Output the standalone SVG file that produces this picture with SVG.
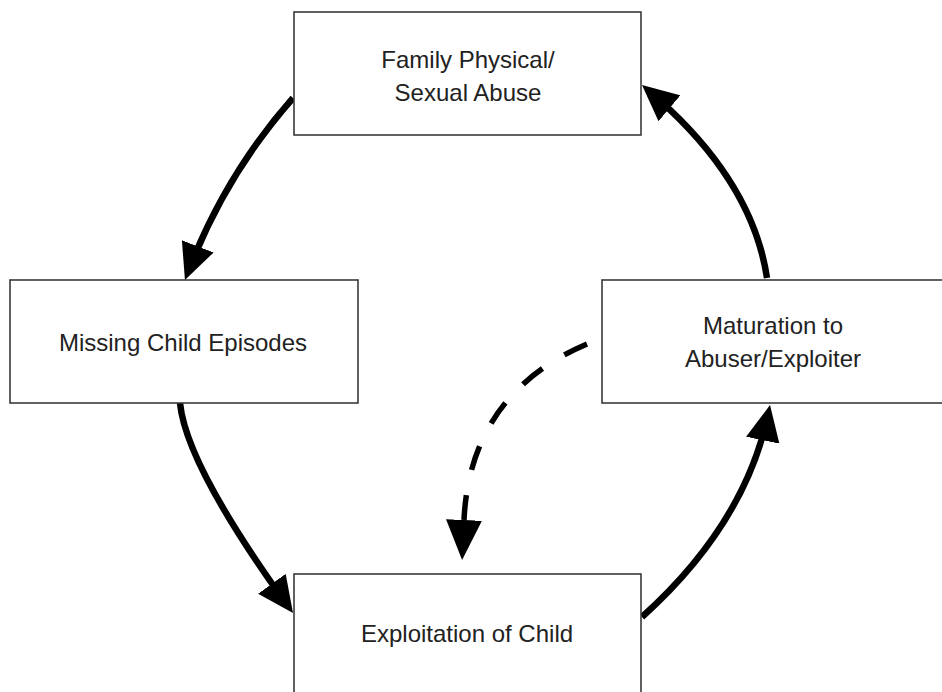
<svg xmlns="http://www.w3.org/2000/svg" width="942" height="692" viewBox="0 0 942 692">
<style>
.box{fill:#fff;stroke:#3a3a3a;stroke-width:1.6}
.lbl{font-family:"Liberation Sans",Arial,sans-serif;font-size:24px;fill:#222;text-anchor:middle}
.arc{fill:none;stroke:#000;stroke-width:6.5}
.dash{fill:none;stroke:#000;stroke-width:5.5;stroke-dasharray:25 25.75}
</style>
<defs>
<marker id="ah" markerUnits="userSpaceOnUse" viewBox="0 0 36 34" markerWidth="36" markerHeight="34" refX="28" refY="17" orient="auto">
<path d="M0,0 L36,17 L0,34 Z" fill="#000"/>
</marker>
<marker id="ahd" markerUnits="userSpaceOnUse" viewBox="0 0 40 36" markerWidth="40" markerHeight="36" refX="0" refY="18" orient="auto">
<path d="M0,0 L40,18 L0,36 Z" fill="#000"/>
</marker>
</defs>
<rect width="942" height="692" fill="#fff"/>
<g id="connectors">
<path class="arc" d="M293,98 Q225,175 187.8,272.5" marker-end="url(#ah)"/>
<path class="arc" d="M180,403 Q186,465 288.3,606.5" marker-end="url(#ah)"/>
<path class="arc" d="M642,617 Q745.5,523.7 768.4,412.8" marker-end="url(#ah)"/>
<path class="arc" d="M767,278 Q752,178 648.1,90.2" marker-end="url(#ah)"/>
<path class="dash" d="M587,344 Q470,394 464,520" marker-end="url(#ahd)"/>
</g>
<g id="family">
<rect class="box" x="294" y="12" width="347" height="123"/>
<text class="lbl" x="468" y="68">Family Physical/</text>
<text class="lbl" x="468" y="101">Sexual Abuse</text>
</g>
<g id="missing">
<rect class="box" x="10" y="280" width="348" height="123"/>
<text class="lbl" x="183" y="351">Missing Child Episodes</text>
</g>
<g id="maturation">
<rect class="box" x="602" y="280" width="347" height="123"/>
<text class="lbl" x="773" y="334">Maturation to</text>
<text class="lbl" x="773" y="367">Abuser/Exploiter</text>
</g>
<g id="exploitation">
<rect class="box" x="294" y="574" width="347" height="130"/>
<text class="lbl" x="467" y="642">Exploitation of Child</text>
</g>
</svg>
